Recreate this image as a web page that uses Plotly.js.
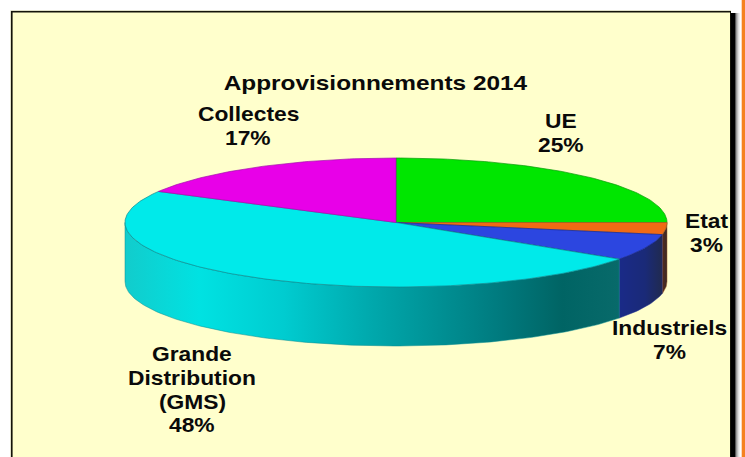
<!DOCTYPE html>
<html><head><meta charset="utf-8">
<script src="https://cdn.plot.ly/plotly-3.0.1.min.js"></script>
<style>html,body{margin:0;padding:0;background:#fff}#c{width:745px;height:457px}
.annotation-text{transform-box:fill-box;transform-origin:center;transform:scaleX(1.14)}
.gtitle{transform-box:fill-box;transform-origin:center;transform:scaleX(1.19)}
</style>
</head><body><div id="c"></div>
<script>
var categories = ["UE","Etat","Industriels","Grande Distribution (GMS)","Collectes"];
var values = [25,3,6.6,48.4,17];
var labelLines = [["UE","25%"],["Etat","3%"],["Industriels","7%"],["Grande","Distribution","(GMS)","48%"],["Collectes","17%"]];
var labelX = [561,706,669,192,248];
var labelY = [121,221,328,354,114];
var topColors = ["#00e600","#f06a14","#2c46e0","#00eaea","#e800e8"];
var edgeColors = ["#0a9a0a","#a05a20","#1a2a90","#0a8a90","#a010aa"];
var wallScales = [
  null,
  [[0,"#5a2c18"],[1,"#33282c"]],
  [[0,"#1a2a88"],[0.6,"#1a2a78"],[1,"#202a50"]],
  [[0,"#12cccc"],[0.15,"#00e2e2"],[0.32,"#00ccd0"],[0.5,"#00a8ac"],[0.76,"#007a7e"],[0.885,"#006464"],[1,"#086a6a"]],
  null
];
var title = "Approvisionnements 2014";

var cx=396, cy=222.5, a=271, b=64.5, depth=59, linePitch=23.8;
function arc(t0,t1,dy){var n=Math.max(2,Math.ceil((t1-t0)/1)),xs=[],ys=[];
  for(var i=0;i<=n;i++){var t=(t0+(t1-t0)*i/n)*Math.PI/180;xs.push(cx+a*Math.cos(t));ys.push(cy+dy+b*Math.sin(t));}
  return {x:xs,y:ys};}
var total=values.reduce(function(s,v){return s+v;},0);
var traces=[], cum=-90, spans=[];
values.forEach(function(v){var s=cum,e=cum+v/total*360;spans.push([s,e]);cum=e;});

spans.forEach(function(sp,i){
  var s=Math.max(sp[0],0), e=Math.min(sp[1],180);
  if(e<=s) return;
  var u=arc(s,e,0), l=arc(s,e,depth);
  var xa=u.x.concat(l.x.slice().reverse()), ya=u.y.concat(l.y.slice().reverse());
  xa.push(xa[0]);ya.push(ya[0]);
  traces.push({type:"scatter",mode:"lines",x:xa,y:ya,fill:"toself",line:{width:0.5,color:edgeColors[i]},hoverinfo:"skip",showlegend:false,
    fillgradient:{type:"horizontal",colorscale:wallScales[i]}});
});
spans.forEach(function(sp,i){
  var p=arc(sp[0],sp[1],0);
  var xa=[cx].concat(p.x,[cx]), ya=[cy].concat(p.y,[cy]);
  traces.push({type:"scatter",mode:"lines",x:xa,y:ya,fill:"toself",fillcolor:topColors[i],line:{width:0.7,color:edgeColors[i]},name:categories[i],hoverinfo:"name",showlegend:false});
});

var font={family:"Liberation Sans, Arial, sans-serif",size:20,color:"#0a0a0a"};
var annotations=[];
labelLines.forEach(function(lines,i){
  lines.forEach(function(t,j){
    annotations.push({x:labelX[i],y:labelY[i]+j*linePitch,xref:"x",yref:"y",text:"<b>"+t+"</b>",showarrow:false,font:font,xanchor:"center",yanchor:"middle"});
  });
});
function band(x0,x1,c){return {type:"rect",xref:"x",yref:"y",x0:x0,y0:13,x1:x1,y1:470,line:{width:0},fillcolor:c,layer:"below"};}
var shapes=[
  band(735.5,736.5,"#555555"),band(736.5,737.5,"#8c8c8c"),band(737.5,738.5,"#b8b8b8"),band(738.5,739.5,"#dedede"),
  band(730,735.5,"#000000"),
  {type:"rect",xref:"x",yref:"y",x0:10.5,y0:10.5,x1:731,y1:470,line:{width:0},fillcolor:"#c4c498",layer:"below"},
  {type:"rect",xref:"x",yref:"y",x0:11,y0:11,x1:731,y1:470,line:{width:0},fillcolor:"#14140a",layer:"below"},
  {type:"rect",xref:"x",yref:"y",x0:12.6,y0:12.6,x1:730,y1:470,line:{width:0},fillcolor:"#ffffcc",layer:"below"},
  {type:"rect",xref:"x",yref:"y",x0:741.7,y0:-2,x1:747,y1:460,line:{width:0},fillcolor:"#f58220",layer:"below"}
];
var layout={width:745,height:457,margin:{l:0,r:0,t:0,b:0},paper_bgcolor:"#ffffff",plot_bgcolor:"rgba(0,0,0,0)",
  title:{text:"<b>"+title+"</b>",font:{family:font.family,size:20.5,color:"#0a0a0a"},x:375.5/745,xanchor:"center",y:1-83/457,yanchor:"middle"},
  xaxis:{range:[0,745],visible:false,fixedrange:true},
  yaxis:{range:[457,0],visible:false,fixedrange:true},
  annotations:annotations,shapes:shapes,showlegend:false};
Plotly.newPlot("c",traces,layout,{displayModeBar:false,staticPlot:true});
</script></body></html>
